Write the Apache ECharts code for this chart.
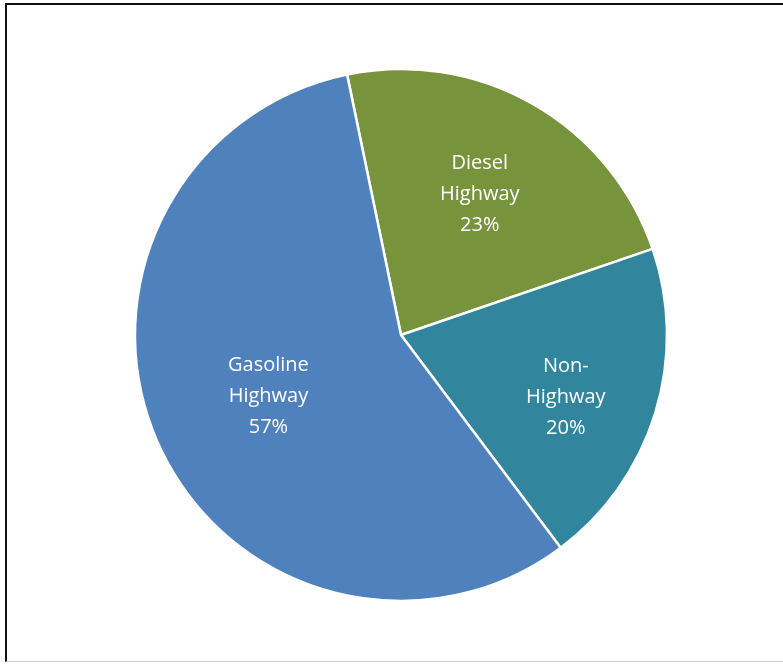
<!DOCTYPE html>
<html><head><meta charset="utf-8">
<script src="https://cdn.jsdelivr.net/npm/echarts@6/dist/echarts.min.js"></script>
<style>
html,body{margin:0;padding:0;background:#fff;}
#frame{position:absolute;left:5px;top:3px;width:800px;height:659px;border-top:2px solid #111;border-left:2px solid #111;border-bottom:1px solid #d0d0d0;box-sizing:border-box;}
#chart{position:absolute;left:0;top:0;width:783px;height:666px;}
</style></head>
<body>
<div id="frame"></div>
<div id="chart"></div>
<script>
const categories = ['Diesel\nHighway', 'Non-\nHighway', 'Gasoline\nHighway'];
const values = [23, 20, 57];
const colors = ['#77933C', '#31859C', '#4F81BD'];

// label nudges (styling only)
const labelOffsets = [[-2, 1], [9, 14], [16, -6]];

const chart = echarts.init(document.getElementById('chart'), null, {renderer:'canvas'});
const data = categories.map((c, i) => ({name: c, value: values[i], itemStyle: {color: colors[i]}}));
const labelData = categories.map((c, i) => ({name: c, value: values[i], label: {offset: labelOffsets[i]}}));
chart.setOption({
  backgroundColor: 'transparent',
  animation: false,
  series: [{
    type: 'pie',
    center: [401, 335],
    radius: [0, 266],
    startAngle: 101.7,
    clockwise: true,
    data: data,
    itemStyle: {borderColor: '#fff', borderWidth: 2.5},
    label: {show: false},
    labelLine: {show: false},
    silent: true
  }, {
    type: 'pie',
    center: [401, 335],
    radius: [0, 320],
    startAngle: 101.7,
    clockwise: true,
    data: labelData,
    itemStyle: {color: 'rgba(0,0,0,0)'},
    label: {
      show: true, position: 'inside',
      formatter: p => p.name + '\n' + p.value + '%',
      color: '#fff', fontFamily: 'Open Sans', fontSize: 20, lineHeight: 31
    },
    labelLine: {show: false},
    silent: true,
    z: 3
  }]
});
</script>
</body></html>
